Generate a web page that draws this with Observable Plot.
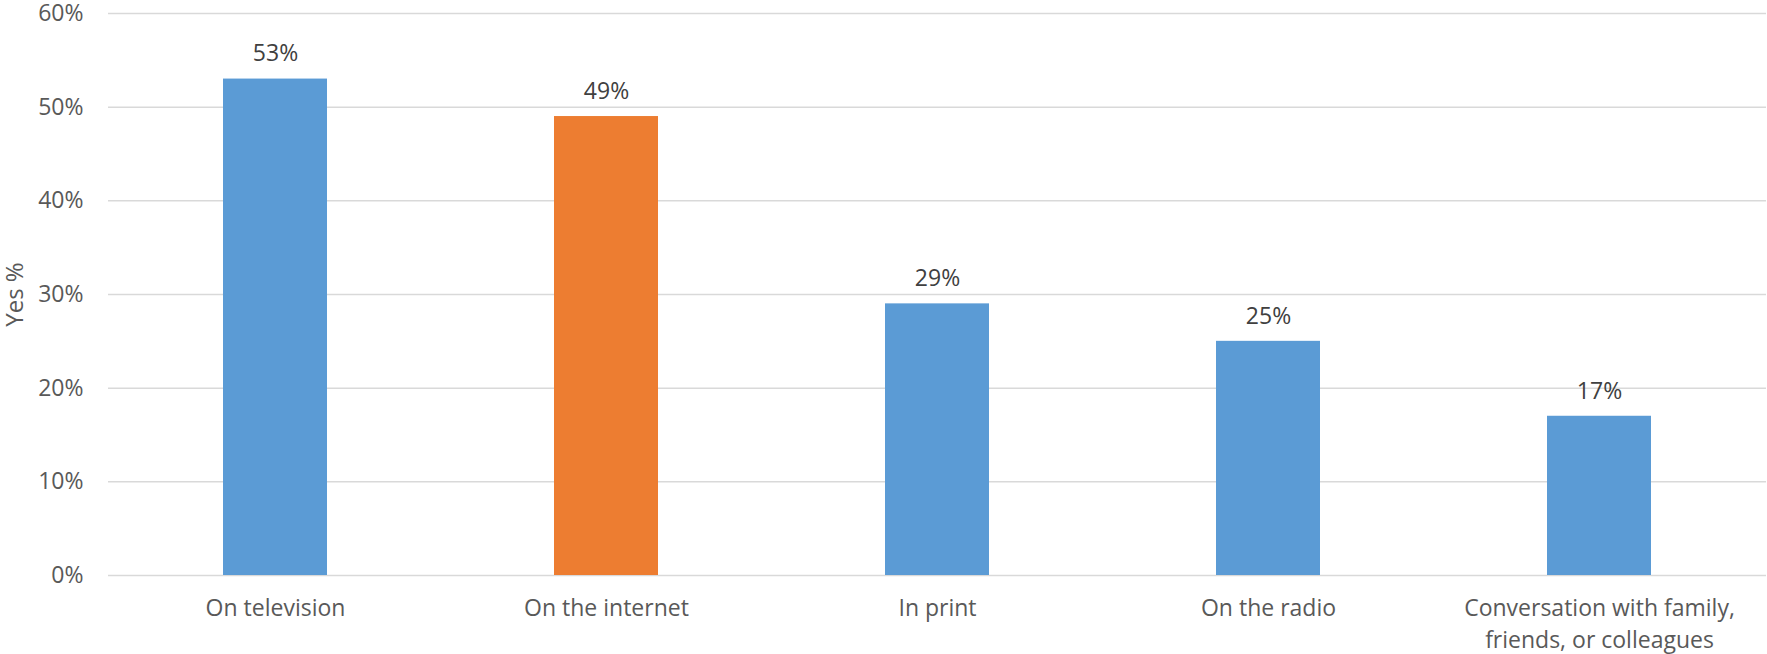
<!DOCTYPE html>
<html>
<head>
<meta charset="utf-8">
<script src="https://cdn.jsdelivr.net/npm/d3@7"></script>
<script src="https://cdn.jsdelivr.net/npm/@observablehq/plot@0.6"></script>
<style>
  html, body { margin: 0; padding: 0; background: #fff; }
  #chart svg { display: block; }
</style>
</head>
<body>
<div id="chart"></div>
<script>
const categories = ["On television", "On the internet", "In print", "On the radio", "Conversation with family,\nfriends, or colleagues"];
const values = [53, 49, 29, 25, 17];
const barColors = ["#5B9BD5", "#ED7D31", "#5B9BD5", "#5B9BD5", "#5B9BD5"];
const yTicks = [0, 10, 20, 30, 40, 50, 60];
const yTitle = ["Yes %"];

const data = categories.map((c, i) => ({category: c, value: values[i], color: barColors[i]}));

const chart = Plot.plot({
  width: 1767,
  height: 654,
  marginLeft: 108,
  marginRight: 1,
  marginTop: 13,
  marginBottom: 79,
  style: {fontFamily: "'Open Sans', sans-serif", fontSize: "23px", color: "#595959", background: "#fff"},
  x: {domain: categories, paddingInner: 0.686, paddingOuter: 0.343, label: null},
  y: {domain: [0, 60], label: null},
  marks: [
    Plot.gridY(yTicks, {stroke: "#D9D9D9", strokeOpacity: 1, strokeWidth: 1.5}),
    Plot.axisY(yTicks, {
      tickSize: 0, tickPadding: 25, tickFormat: d => d + "%",
      fill: "#595959", fontSize: 23, label: null
    }),
    Plot.text(yTitle, {frameAnchor: "left", textAnchor: "middle", lineAnchor: "middle", dx: -93, rotate: -90, fontSize: 24, fill: "#595959", text: d => d}),
    Plot.axisX({
      tickSize: 0, tickPadding: 18, fill: "#595959", fontSize: 23, lineHeight: 1.38, label: null
    }),
    Plot.barY(data, {x: "category", y: "value", fill: "color"}),
    Plot.text(data, {x: "category", y: "value", text: d => d.value + "%", dy: -25, fill: "#404040", fontSize: 23})
  ]
});
document.getElementById("chart").appendChild(chart);
</script>
</body>
</html>
